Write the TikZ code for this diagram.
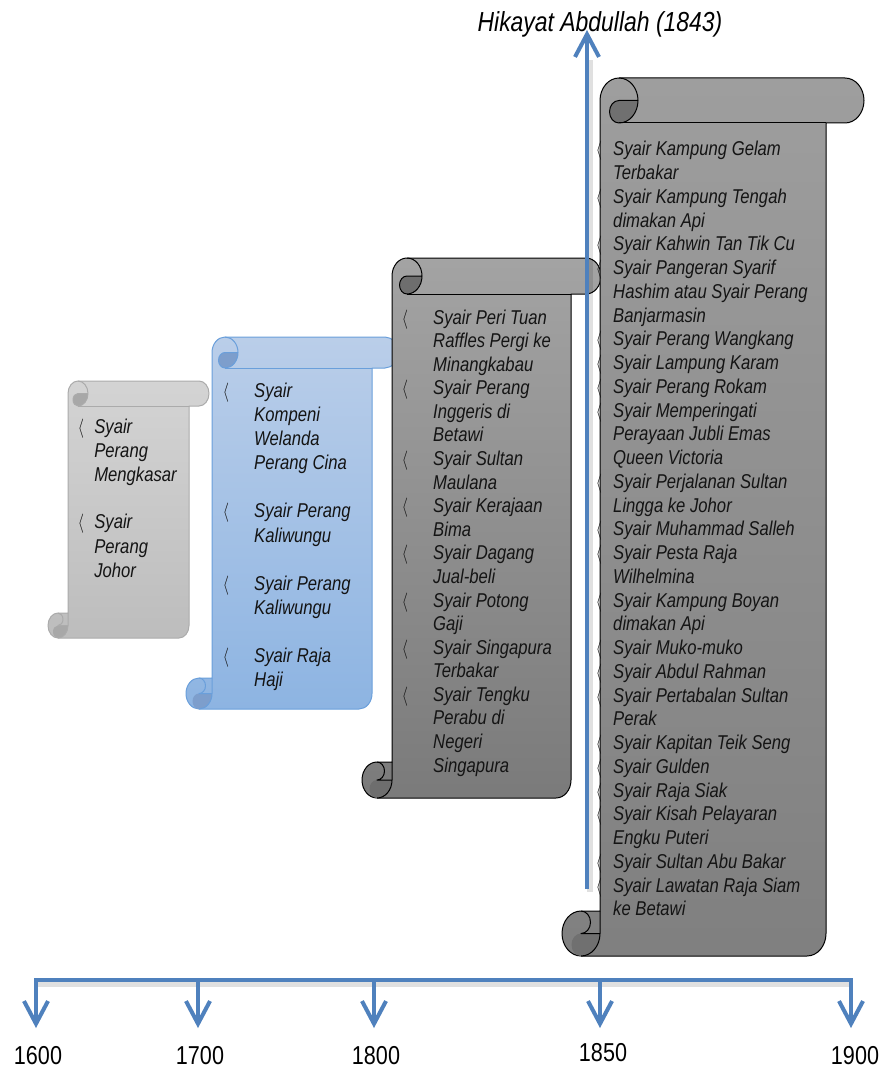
\documentclass[tikz,border=0pt]{standalone}
\usepackage{fontspec}
\setmainfont{Liberation Sans}
\usepackage{graphicx}
\usetikzlibrary{arrows.meta}
\definecolor{tlblue}{HTML}{4F81BD}
\definecolor{txt}{HTML}{141414}
\definecolor{bluetop}{RGB}{186,206,233}
\definecolor{bluebot}{RGB}{141,180,226}
\definecolor{bluestroke}{RGB}{106,159,219}
\definecolor{bluedark}{RGB}{125,158,204}
\newcommand{\bul}[1]{\makebox[#1][l]{$\langle$}}
% L T R B chx chy fillstyle strokecolor darkcolor
\newcommand{\scrollshape}[9]{%
 \pgfmathsetmacro\hx{#5/2}\pgfmathsetmacro\hy{#6/2}%
 \pgfmathsetmacro\qx{#5/4}\pgfmathsetmacro\qy{#6/4}%
 \pgfmathsetmacro\xa{#1+#5}\pgfmathsetmacro\xb{#1+1.5*#5}%
 \pgfmathsetmacro\xc{#1+2*#5}\pgfmathsetmacro\xd{#3-#5}%
 \pgfmathsetmacro\xe{#3-0.5*#5}\pgfmathsetmacro\xf{#1+0.5*#5}%
 \pgfmathsetmacro\ya{#2+0.5*#6}\pgfmathsetmacro\yb{#2+#6}%
 \pgfmathsetmacro\yc{#4-#6}\pgfmathsetmacro\yd{#4-0.5*#6}%
 \path[#7, draw=#8, scrollline] (\xa,\yc) -- (\xa,\ya)
   arc[start angle=180,end angle=270,x radius=\hx,y radius=\hy] -- (\xe,#2)
   arc[start angle=270,end angle=450,x radius=\hx,y radius=\hy] -- (\xd,\yb) -- (\xd,\yd)
   arc[start angle=0,end angle=90,x radius=\hx,y radius=\hy] -- (\xf,#4)
   arc[start angle=90,end angle=270,x radius=\hx,y radius=\hy] -- cycle;
 \fill[#9] (\xc,\ya) arc[start angle=0,end angle=90,x radius=\hx,y radius=\hy]
   arc[start angle=90,end angle=270,x radius=\qx,y radius=\qy] -- cycle;
 \fill[#9] (\xa,\yd) arc[start angle=0,end angle=90,x radius=\hx,y radius=\hy]
   arc[start angle=90,end angle=270,x radius=\qx,y radius=\qy] -- cycle;
 \draw[#8, scrollline] (\xb,#2) arc[start angle=270,end angle=450,x radius=\hx,y radius=\hy]
   arc[start angle=90,end angle=270,x radius=\qx,y radius=\qy] -- (\xc,\ya);
 \draw[#8, scrollline] (\xd,\yb) -- (\xb,\yb);
 \draw[#8, scrollline] (\xf,\yc) arc[start angle=270,end angle=450,x radius=\qx,y radius=\qy] -- (\xa,\yd);
 \draw[#8, scrollline] (\xf,#4) arc[start angle=90,end angle=0,x radius=\hx,y radius=\hy] -- (\xa,\yc);
}
\begin{document}
\begin{tikzpicture}[x=0.75pt,y=-0.75pt,
  scrollline/.style={line width=0.75pt, line join=round},
  listtext/.style={anchor=base west, inner sep=0pt, text=txt},
  yearlabel/.style={anchor=base, inner sep=0pt, text=black},
  tl/.style={draw=tlblue, line width=3pt},
  tlarrow/.style={tl, -{Straight Barb[length=17pt,width=18pt]}},
  tlshadow/.style={draw=black, opacity=0.12, line width=4pt}]
\useasboundingbox (0,0) rectangle (884,1070);
\fill[white] (0,0) rectangle (884,1070);

% scrolls
\scrollshape{48}{381}{209}{638}{20}{25}{top color=black!17, bottom color=black!26}{black!33}{black!34}
\scrollshape{186}{337}{398}{709}{26}{31}{top color=bluetop, bottom color=bluebot}{bluestroke}{bluedark}
\scrollshape{362}{258}{601}{798}{30}{36}{top color=black!36, bottom color=black!52}{black}{black!57}
\scrollshape{562}{78}{864}{956}{38}{45}{top color=black!38, bottom color=black!50}{black}{black!56}

% lists
\node[listtext] (list1) at (77.5,433) {\scalebox{1}[1.2]{\fontsize{12.5}{15.3}\selectfont\itshape
\begin{tabular}[t]{@{}l@{}l@{}}
\bul{12.4pt} & Syair\\ & Perang\\ & Mengkasar\\[14pt]
\bul{12.4pt} & Syair\\ & Perang\\ & Johor
\end{tabular}}};

\node[listtext] (list2) at (222.5,397) {\scalebox{1}[1.2]{\fontsize{12.5}{15.19}\selectfont\itshape
\begin{tabular}[t]{@{}l@{}l@{}}
\bul{23.6pt} & Syair\\ & Kompeni\\ & Welanda\\ & Perang Cina\\[14.8pt]
\bul{23.6pt} & Syair Perang\\ & Kaliwungu\\[14.8pt]
\bul{23.6pt} & Syair Perang\\ & Kaliwungu\\[14.8pt]
\bul{23.6pt} & Syair Raja\\ & Haji
\end{tabular}}};

\node[listtext] (list3) at (401.5,324) {\scalebox{1}[1.2]{\fontsize{12.5}{14.74}\selectfont\itshape
\begin{tabular}[t]{@{}l@{}l@{}}
\bul{23.6pt} & Syair Peri Tuan\\ & Raffles Pergi ke\\ & Minangkabau\\
\bul{23.6pt} & Syair Perang\\ & Inggeris di\\ & Betawi\\
\bul{23.6pt} & Syair Sultan\\ & Maulana\\
\bul{23.6pt} & Syair Kerajaan\\ & Bima\\
\bul{23.6pt} & Syair Dagang\\ & Jual-beli\\
\bul{23.6pt} & Syair Potong\\ & Gaji\\
\bul{23.6pt} & Syair Singapura\\ & Terbakar\\
\bul{23.6pt} & Syair Tengku\\ & Perabu di\\ & Negeri\\ & Singapura
\end{tabular}}};

\node[listtext] (list4) at (595.5,156) {\scalebox{1}[1.2]{\fontsize{12.5}{14.84}\selectfont\itshape
\begin{tabular}[t]{@{}l@{}l@{}}
\bul{13.1pt} & Syair Kampung Gelam\\ & Terbakar\\
\bul{13.1pt} & Syair Kampung Tengah\\ & dimakan Api\\
\bul{13.1pt} & Syair Kahwin Tan Tik Cu\\
\bul{13.1pt} & Syair Pangeran Syarif\\ & Hashim atau Syair Perang\\ & Banjarmasin\\
\bul{13.1pt} & Syair Perang Wangkang\\
\bul{13.1pt} & Syair Lampung Karam\\
\bul{13.1pt} & Syair Perang Rokam\\
\bul{13.1pt} & Syair Memperingati\\ & Perayaan Jubli Emas\\ & Queen Victoria\\
\bul{13.1pt} & Syair Perjalanan Sultan\\ & Lingga ke Johor\\
\bul{13.1pt} & Syair Muhammad Salleh\\
\bul{13.1pt} & Syair Pesta Raja\\ & Wilhelmina\\
\bul{13.1pt} & Syair Kampung Boyan\\ & dimakan Api\\
\bul{13.1pt} & Syair Muko-muko\\
\bul{13.1pt} & Syair Abdul Rahman\\
\bul{13.1pt} & Syair Pertabalan Sultan\\ & Perak\\
\bul{13.1pt} & Syair Kapitan Teik Seng\\
\bul{13.1pt} & Syair Gulden\\
\bul{13.1pt} & Syair Raja Siak\\
\bul{13.1pt} & Syair Kisah Pelayaran\\ & Engku Puteri\\
\bul{13.1pt} & Syair Sultan Abu Bakar\\
\bul{13.1pt} & Syair Lawatan Raja Siam\\ & ke Betawi
\end{tabular}}};

% title
\node[anchor=base, inner sep=0pt] (title) at (600,32) {\scalebox{1}[1.2]{\fontsize{17.2}{20}\selectfont\itshape Hikayat Abdullah (1843)}};

% timeline coordinates
\coordinate (h1600) at (36,980);
\coordinate (h1700) at (198,980);
\coordinate (h1800) at (374,980);
\coordinate (h1850) at (600,980);
\coordinate (h1900) at (851,980);
\coordinate (d1600) at (36,1028);
\coordinate (d1700) at (198,1028);
\coordinate (d1800) at (374,1028);
\coordinate (d1850) at (600,1028);
\coordinate (d1900) at (851,1028);
\coordinate (vbot) at (587,889);
\coordinate (vtop) at (587,30);
\coordinate (vsh) at (590,60);

% shadows
\draw[tlshadow] ([shift={(2,4)}]h1600) -- ([shift={(2,4)}]h1900);
\draw[tlshadow] ([shift={(3,3)}]vbot) -- (vsh);

% timeline
\draw[tl, line cap=rect] (h1600) -- (h1900);
\foreach \y in {1600,1700,1800,1850,1900}{
  \draw[tlarrow] (h\y) -- (d\y);
}
\draw[tlarrow] (vbot) -- (vtop);

% years
\node[yearlabel] (l1600) at (38,1064) {\scalebox{1}[1.2]{\fontsize{16.2}{18}\selectfont 1600}};
\node[yearlabel] (l1700) at (200,1064) {\scalebox{1}[1.2]{\fontsize{16.2}{18}\selectfont 1700}};
\node[yearlabel] (l1800) at (376,1064) {\scalebox{1}[1.2]{\fontsize{16.2}{18}\selectfont 1800}};
\node[yearlabel] (l1850) at (603,1061) {\scalebox{1}[1.2]{\fontsize{16.2}{18}\selectfont 1850}};
\node[yearlabel] (l1900) at (855,1064) {\scalebox{1}[1.2]{\fontsize{16.2}{18}\selectfont 1900}};
\end{tikzpicture}
\end{document}
